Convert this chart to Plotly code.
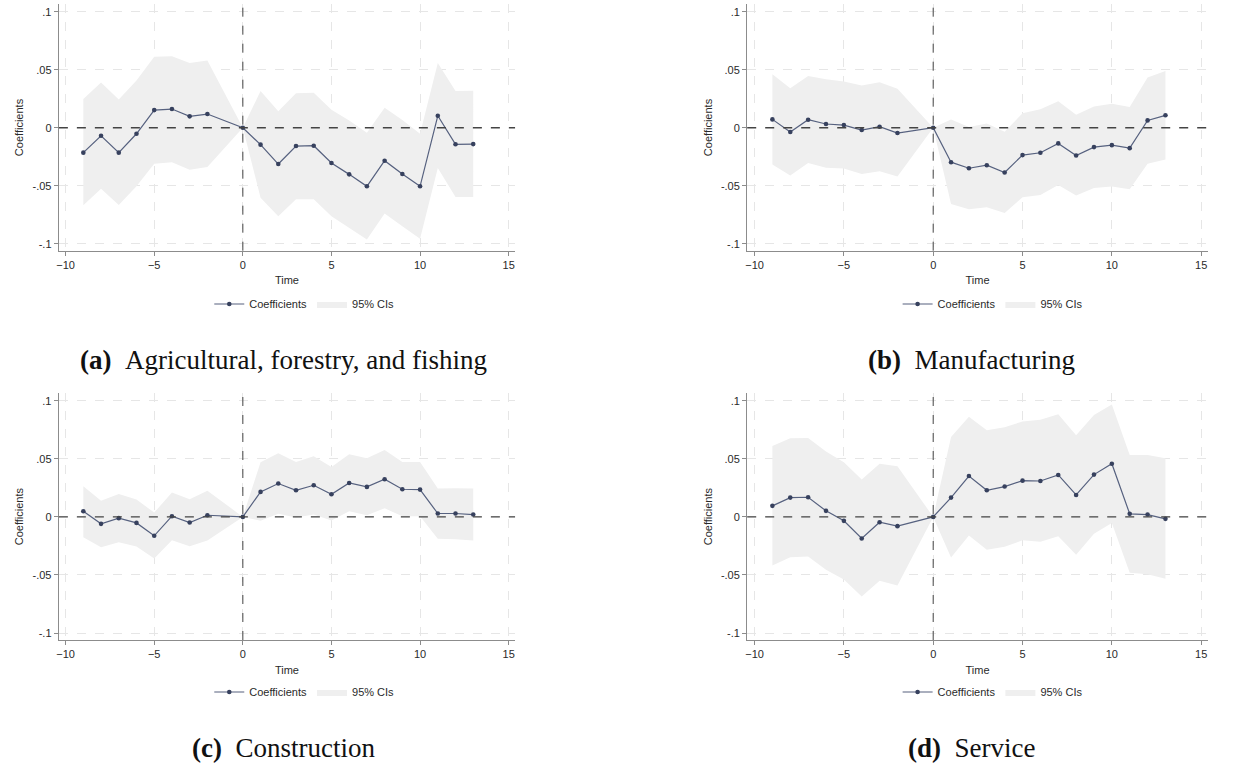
import plotly.graph_objects as go

# Event time (period -1 omitted as the reference period)
time = [-9, -8, -7, -6, -5, -4, -3, -2, 0, 1, 2, 3, 4, 5, 6, 7, 8, 9, 10, 11, 12, 13]

# (a) Agricultural, forestry, and fishing
coef_a = [-0.0215, -0.0069, -0.0215, -0.0052, 0.0152, 0.0161, 0.0098, 0.0118, 0.0,
          -0.0146, -0.0313, -0.0158, -0.0155, -0.0304, -0.0402, -0.0505, -0.0284,
          -0.0399, -0.0505, 0.0103, -0.0143, -0.0141]
upper_a = [0.0247, 0.0390, 0.0244, 0.0407, 0.0611, 0.0617, 0.0557, 0.0580, 0.0,
           0.0316, 0.0143, 0.0298, 0.0301, 0.0155, 0.0063, -0.0043, 0.0172, 0.0066,
           -0.0052, 0.0557, 0.0316, 0.0319]
lower_a = [-0.0669, -0.0525, -0.0666, -0.0505, -0.0310, -0.0298, -0.0362, -0.0339, 0.0,
           -0.0603, -0.0763, -0.0617, -0.0617, -0.0763, -0.0867, -0.0964, -0.0740,
           -0.0849, -0.0958, -0.0347, -0.0597, -0.0597]

# (b) Manufacturing
coef_b = [0.0072, -0.0037, 0.0069, 0.0032, 0.0023, -0.0020, 0.0009, -0.0046, 0.0,
          -0.0297, -0.0349, -0.0323, -0.0386, -0.0236, -0.0216, -0.0135, -0.0239,
          -0.0167, -0.0150, -0.0176, 0.0063, 0.0107]
upper_b = [0.0461, 0.0340, 0.0447, 0.0418, 0.0398, 0.0363, 0.0392, 0.0337, 0.0,
           0.0072, 0.0006, 0.0037, -0.0035, 0.0124, 0.0159, 0.0228, 0.0112, 0.0184,
           0.0207, 0.0179, 0.0432, 0.0490]
lower_b = [-0.0317, -0.0412, -0.0305, -0.0346, -0.0352, -0.0398, -0.0375, -0.0421, 0.0,
           -0.0657, -0.0703, -0.0686, -0.0735, -0.0599, -0.0579, -0.0493, -0.0585,
           -0.0519, -0.0507, -0.0530, -0.0311, -0.0274]

# (c) Construction
coef_c = [0.0049, -0.0060, -0.0011, -0.0052, -0.0163, 0.0006, -0.0049, 0.0014, 0.0,
          0.0215, 0.0287, 0.0229, 0.0272, 0.0195, 0.0292, 0.0258, 0.0324, 0.0238,
          0.0235, 0.0029, 0.0029, 0.0020]
upper_c = [0.0264, 0.0138, 0.0198, 0.0149, 0.0037, 0.0209, 0.0152, 0.0226, 0.0,
           0.0470, 0.0547, 0.0473, 0.0521, 0.0430, 0.0539, 0.0504, 0.0576, 0.0473,
           0.0473, 0.0244, 0.0246, 0.0244]
lower_c = [-0.0175, -0.0261, -0.0218, -0.0255, -0.0358, -0.0201, -0.0252, -0.0203, 0.0,
           -0.0034, 0.0026, -0.0006, 0.0020, -0.0032, 0.0049, 0.0014, 0.0074, 0.0006,
           0.0006, -0.0189, -0.0192, -0.0203]

# (d) Service
coef_d = [0.0095, 0.0166, 0.0169, 0.0052, -0.0034, -0.0186, -0.0046, -0.0080, 0.0,
          0.0166, 0.0352, 0.0229, 0.0261, 0.0312, 0.0309, 0.0361, 0.0189, 0.0364,
          0.0458, 0.0026, 0.0020, -0.0017]
upper_d = [0.0610, 0.0676, 0.0679, 0.0562, 0.0470, 0.0321, 0.0458, 0.0436, 0.0,
           0.0688, 0.0862, 0.0745, 0.0771, 0.0822, 0.0837, 0.0883, 0.0702, 0.0877,
           0.0968, 0.0533, 0.0533, 0.0504]
lower_d = [-0.0418, -0.0347, -0.0341, -0.0456, -0.0539, -0.0685, -0.0550, -0.0590, 0.0,
           -0.0350, -0.0160, -0.0284, -0.0258, -0.0201, -0.0215, -0.0166, -0.0327,
           -0.0146, -0.0052, -0.0481, -0.0493, -0.0533]

caption_tags = ["(a)", "(b)", "(c)", "(d)"]
caption_texts = ["Agricultural, forestry, and fishing", "Manufacturing",
                 "Construction", "Service"]
x_ticks = [-10, -5, 0, 5, 10, 15]
y_ticks = [-0.1, -0.05, 0, 0.05, 0.1]
y_tick_labels = ["-.1", "-.05", "0", ".05", ".1"]

W, H = 1246, 765
LINE_COL = "#56617f"
MARK_COL = "#37415e"
FILL_COL = "#efefef"
AXIS_COL = "#8c8c8c"
GRID_COL = "#e6e6e6"
TEXT_COL = "#2a2a2a"
FONT = "Liberation Sans, Arial, sans-serif"

panels = [
    (coef_a, upper_a, lower_a),
    (coef_b, upper_b, lower_b),
    (coef_c, upper_c, lower_c),
    (coef_d, upper_d, lower_d),
]

# pixel boxes of each plot region: (left, right, top, bottom)
boxes = [
    (56, 513.3, 4.3, 250.7),
    (746, 1207.7, 4.3, 250.7),
    (56, 513.3, 393.3, 640),
    (746, 1207.7, 393.3, 640),
]
x_ranges = [(-10.38, 15.36), (-10.41, 15.37), (-10.38, 15.36), (-10.41, 15.37)]
y_range = (-0.106, 0.1064)
legend_pos = [(302, 304), (992, 304), (302, 692), (992, 692)]
caption_pos = [(281, 360), (971, 360), (281, 748), (971, 748)]

fig = go.Figure()
layout = dict(width=W, height=H, margin=dict(l=0, r=0, t=0, b=0),
              paper_bgcolor="white", plot_bgcolor="white",
              font=dict(family=FONT, size=11, color=TEXT_COL))
shapes, annotations = [], []

for i, ((coef, up, lo), box) in enumerate(zip(panels, boxes)):
    n = i + 1
    xa = "x" if n == 1 else f"x{n}"
    ya = "y" if n == 1 else f"y{n}"
    leg = "legend" if n == 1 else f"legend{n}"
    l, r, t, b = box

    # confidence band
    fig.add_trace(go.Scatter(x=time + time[::-1], y=up + lo[::-1], fill="toself",
                             fillcolor=FILL_COL, line=dict(width=0, color=FILL_COL),
                             mode="lines", name="95% CIs", xaxis=xa, yaxis=ya,
                             legend=leg, hoverinfo="skip"))
    # point estimates
    fig.add_trace(go.Scatter(x=time, y=coef, mode="lines+markers", name="Coefficients",
                             line=dict(color=LINE_COL, width=1.2),
                             marker=dict(color=MARK_COL, size=4.6),
                             xaxis=xa, yaxis=ya, legend=leg))

    axis_common = dict(showline=True, linecolor=AXIS_COL, linewidth=1.3,
                       ticks="outside", ticklen=4, tickcolor=AXIS_COL, tickwidth=1,
                       showgrid=True, gridcolor=GRID_COL, griddash="dash", gridwidth=1,
                       zeroline=False, tickfont=dict(size=11, color=TEXT_COL),
                       mirror=False)
    layout["xaxis" if n == 1 else f"xaxis{n}"] = dict(
        axis_common, domain=[l / W, r / W], range=list(x_ranges[i]),
        tickvals=x_ticks, anchor=ya,
        title=dict(text="Time", font=dict(size=11, color=TEXT_COL), standoff=6))
    layout["yaxis" if n == 1 else f"yaxis{n}"] = dict(
        axis_common, domain=[1 - b / H, 1 - t / H], range=list(y_range),
        tickvals=y_ticks, ticktext=y_tick_labels, anchor=xa,
        title=dict(text="Coefficients", font=dict(size=11, color=TEXT_COL), standoff=6))

    # dashed reference lines at zero
    shapes.append(dict(type="line", xref=f"{xa} domain", yref=ya, x0=0, x1=1, y0=0, y1=0,
                       line=dict(color="#444444", width=1.3, dash="dash"), layer="above"))
    shapes.append(dict(type="line", xref=xa, yref=f"{ya} domain", x0=0, x1=0, y0=0, y1=1,
                       line=dict(color="#444444", width=1.0, dash="dash"), layer="above"))

    lx, ly = legend_pos[i]
    layout[leg] = dict(orientation="h", x=lx / W, y=1 - ly / H, xanchor="center",
                       yanchor="middle", traceorder="reversed", itemwidth=30,
                       font=dict(size=11, color=TEXT_COL), bgcolor="rgba(0,0,0,0)")

    cx, cy = caption_pos[i]
    annotations.append(dict(text=f"<b>{caption_tags[i]}</b>\u00a0\u00a0{caption_texts[i]}",
                            xref="paper", yref="paper",
                            x=cx / W, y=1 - cy / H, xanchor="center", yanchor="middle",
                            showarrow=False,
                            font=dict(family="Liberation Serif, Times New Roman, serif",
                                      size=27, color="#111111")))

layout["shapes"] = shapes
layout["annotations"] = annotations
fig.update_layout(**layout)
fig.write_html("out.html")
